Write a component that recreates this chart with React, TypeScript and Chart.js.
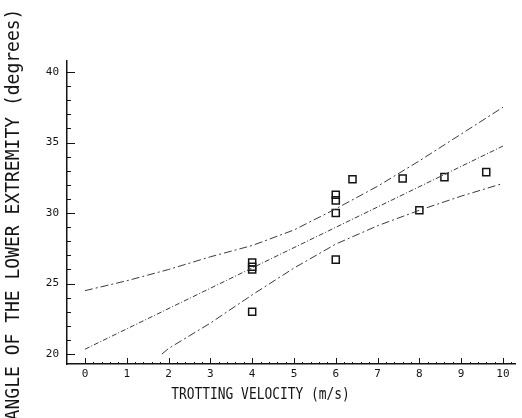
import { useEffect, useRef } from "react";
import { Chart, registerables } from "chart.js";

Chart.register(...registerables);

// ---- data ----
const velocity = [4, 4, 4, 4, 6, 6, 6, 6, 6.4, 7.6, 8, 8.6, 9.6];
const angle = [23.0, 26.0, 26.2, 26.5, 26.7, 30.0, 30.9, 31.3, 32.4, 32.45, 30.2, 32.55, 32.9];

const fitX = [0, 10];
const fitY = [20.35, 34.75];

const upperX = [0, 1, 2, 3, 4, 5, 6, 7, 8, 9, 10];
const upperY = [24.5, 25.2, 26.0, 26.9, 27.7, 28.8, 30.3, 31.9, 33.7, 35.6, 37.5];

const lowerX = [1.84, 2, 3, 4, 5, 6, 7, 8, 9, 10];
const lowerY = [20.0, 20.4, 22.2, 24.2, 26.1, 27.8, 29.1, 30.2, 31.2, 32.1];

const xTickValues = [0, 1, 2, 3, 4, 5, 6, 7, 8, 9, 10];
const yTickValues = [20, 25, 30, 35, 40];

const xTitle = "TROTTING VELOCITY (m/s)";
const yTitle = "ANGLE OF THE LOWER EXTREMITY (degrees)";

const INK = "#141414";
const LINE = "#3a3a3a";
const MONO = '"DejaVu Sans Mono", "Liberation Mono", monospace';

const axisDecor = {
  id: "axisDecor",
  afterDraw(chart: any) {
    const { ctx, chartArea } = chart;
    const x = chart.scales.x;
    const y = chart.scales.y;
    ctx.save();
    ctx.strokeStyle = INK;
    ctx.lineWidth = 1;
    // y ticks, pointing into the plot: major every 5, minor every 1
    for (let v = 20; v <= 40; v++) {
      const py = Math.round(y.getPixelForValue(v)) + 0.5;
      const len = v % 5 === 0 ? 8 : 4;
      ctx.beginPath();
      ctx.moveTo(chartArea.left, py);
      ctx.lineTo(chartArea.left + len, py);
      ctx.stroke();
    }
    // x ticks, pointing up: major every 1, minor every 0.2
    for (let i = 0; i <= 51; i++) {
      const v = i / 5;
      if (v > x.max) break;
      const px = Math.round(x.getPixelForValue(v)) + 0.5;
      const len = i % 5 === 0 ? 6 : 2;
      ctx.beginPath();
      ctx.moveTo(px, chartArea.bottom);
      ctx.lineTo(px, chartArea.bottom - len);
      ctx.stroke();
    }
    // axis titles (condensed plotter-like lettering)
    ctx.fillStyle = INK;
    ctx.textAlign = "center";
    ctx.textBaseline = "middle";

    ctx.save();
    ctx.translate(x.getPixelForValue(4.2), chartArea.bottom + 31);
    ctx.scale(0.86, 1);
    ctx.font = `15px ${MONO}`;
    ctx.fillText(xTitle, 0, 0);
    ctx.restore();

    ctx.save();
    ctx.translate(14, y.getPixelForValue(29.9));
    ctx.rotate(-Math.PI / 2);
    ctx.scale(0.9, 1);
    ctx.font = `20px ${MONO}`;
    ctx.fillText(yTitle, 0, 0);
    ctx.restore();

    ctx.restore();
  },
};

export default function App() {
  const ref = useRef<HTMLCanvasElement | null>(null);

  useEffect(() => {
    document.body.style.margin = "0";
    const canvas = ref.current;
    if (!canvas) return;

    const lineDs = (xs: number[], ys: number[], dash: number[]) => ({
      type: "line" as const,
      data: xs.map((v, i) => ({ x: v, y: ys[i] })),
      borderColor: LINE,
      borderWidth: 1,
      borderDash: dash,
      pointRadius: 0,
      fill: false,
      showLine: true,
      tension: 0,
    });

    const chart = new Chart(canvas, {
      type: "scatter",
      data: {
        datasets: [
          lineDs(upperX, upperY, [8, 3, 2, 3]),
          lineDs(fitX, fitY, [5, 2, 1, 2]),
          lineDs(lowerX, lowerY, [8, 3, 2, 3]),
          {
            type: "scatter",
            data: velocity.map((v, i) => ({ x: v, y: angle[i] })),
            pointStyle: "rect",
            pointRadius: 5,
            borderColor: INK,
            borderWidth: 1.5,
            backgroundColor: "rgba(0,0,0,0)",
            showLine: false,
          } as any,
        ],
      },
      options: {
        responsive: false,
        animation: false,
        layout: { padding: { top: 61, right: 2, left: 0, bottom: 0 } },
        plugins: {
          legend: { display: false },
          tooltip: { enabled: false },
          title: { display: false },
        },
        scales: {
          x: {
            type: "linear",
            min: -0.43,
            max: 10.3,
            afterBuildTicks: (s: any) => {
              s.ticks = xTickValues.map((v) => ({ value: v }));
            },
            afterFit: (s: any) => {
              s.height = 54;
            },
            ticks: {
              color: INK,
              font: { family: MONO, size: 11 },
              padding: 4,
              maxRotation: 0,
              autoSkip: false,
            },
            grid: { display: false, drawTicks: false },
            border: { display: true, color: INK, width: 1.5 },
          },
          y: {
            type: "linear",
            min: 19.3,
            max: 40.78,
            afterBuildTicks: (s: any) => {
              s.ticks = yTickValues.map((v) => ({ value: v }));
            },
            afterFit: (s: any) => {
              s.width = 67;
            },
            ticks: {
              color: INK,
              font: { family: MONO, size: 11 },
              padding: 8,
              autoSkip: false,
            },
            grid: { display: false, drawTicks: false },
            border: { display: true, color: INK, width: 1.5 },
          },
        },
      } as any,
      plugins: [axisDecor],
    });

    return () => chart.destroy();
  }, []);

  return (
    <div style={{ width: 522, height: 418, background: "#fff" }}>
      <canvas ref={ref} width={522} height={418} style={{ display: "block" }} />
    </div>
  );
}
